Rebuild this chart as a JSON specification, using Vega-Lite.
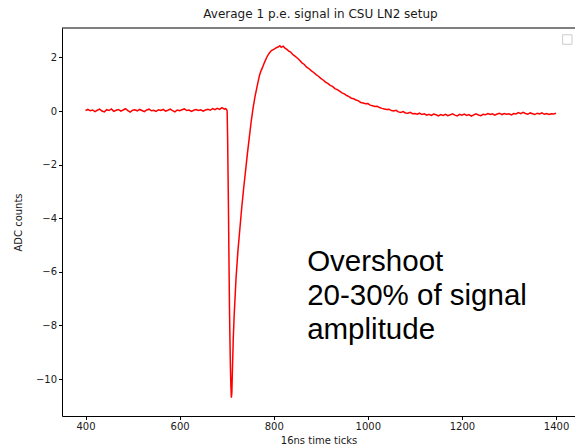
{
  "$schema": "https://vega.github.io/schema/vega-lite/v6.json",
  "width": 513,
  "height": 388,
  "autosize": "none",
  "padding": {"left": 62, "top": 28, "right": 0, "bottom": 31},
  "config": {"view": {"stroke": null}, "font": "DejaVu Sans"},
  "title": {"text": "Average 1 p.e. signal in CSU LN2 setup", "fontSize": 12, "fontWeight": "normal", "font": "DejaVu Sans", "color": "#1a1a1a", "offset": 7, "dx": 2},
  "datasets": {
    "signal": [
      {"tick": 400, "adc": 0.02}, {"tick": 405, "adc": 0.06}, {"tick": 410, "adc": 0.01}, {"tick": 415, "adc": 0.04},
      {"tick": 420, "adc": -0.02}, {"tick": 425, "adc": 0.03}, {"tick": 430, "adc": 0.07}, {"tick": 435, "adc": 0.0},
      {"tick": 440, "adc": -0.03}, {"tick": 445, "adc": 0.05}, {"tick": 450, "adc": 0.02}, {"tick": 455, "adc": 0.08},
      {"tick": 460, "adc": -0.01}, {"tick": 465, "adc": 0.03}, {"tick": 470, "adc": 0.06}, {"tick": 475, "adc": 0.0},
      {"tick": 480, "adc": 0.04}, {"tick": 485, "adc": 0.09}, {"tick": 490, "adc": 0.02}, {"tick": 495, "adc": -0.04},
      {"tick": 500, "adc": 0.03}, {"tick": 505, "adc": 0.05}, {"tick": 510, "adc": 0.01}, {"tick": 515, "adc": 0.06},
      {"tick": 520, "adc": 0.02}, {"tick": 525, "adc": -0.02}, {"tick": 530, "adc": 0.04}, {"tick": 535, "adc": 0.07},
      {"tick": 540, "adc": 0.01}, {"tick": 545, "adc": 0.03}, {"tick": 550, "adc": -0.01}, {"tick": 555, "adc": 0.05},
      {"tick": 560, "adc": 0.02}, {"tick": 565, "adc": 0.06}, {"tick": 570, "adc": 0.0}, {"tick": 575, "adc": 0.03},
      {"tick": 580, "adc": 0.07}, {"tick": 585, "adc": 0.02}, {"tick": 590, "adc": -0.03}, {"tick": 595, "adc": 0.04},
      {"tick": 600, "adc": 0.01}, {"tick": 605, "adc": 0.05}, {"tick": 610, "adc": 0.08}, {"tick": 615, "adc": 0.02},
      {"tick": 620, "adc": 0.04}, {"tick": 625, "adc": -0.01}, {"tick": 630, "adc": 0.03}, {"tick": 635, "adc": 0.06},
      {"tick": 640, "adc": 0.02}, {"tick": 645, "adc": 0.05}, {"tick": 650, "adc": 0.0}, {"tick": 655, "adc": 0.04},
      {"tick": 660, "adc": 0.07}, {"tick": 665, "adc": 0.03}, {"tick": 670, "adc": 0.09}, {"tick": 675, "adc": 0.05},
      {"tick": 680, "adc": 0.1}, {"tick": 685, "adc": 0.06}, {"tick": 690, "adc": 0.13}, {"tick": 695, "adc": 0.07},
      {"tick": 698, "adc": 0.09}, {"tick": 700, "adc": 0.05}, {"tick": 701, "adc": 0.0},
      {"tick": 702, "adc": -1.0}, {"tick": 703, "adc": -2.5}, {"tick": 704, "adc": -4.0}, {"tick": 705, "adc": -5.8},
      {"tick": 706, "adc": -7.4}, {"tick": 707, "adc": -8.6}, {"tick": 708, "adc": -9.6}, {"tick": 709, "adc": -10.3},
      {"tick": 710, "adc": -10.7}, {"tick": 711, "adc": -10.5}, {"tick": 712, "adc": -9.8}, {"tick": 714, "adc": -8.5},
      {"tick": 716, "adc": -7.6}, {"tick": 718, "adc": -6.9}, {"tick": 720, "adc": -6.2}, {"tick": 724, "adc": -5.2},
      {"tick": 728, "adc": -4.4}, {"tick": 732, "adc": -3.6}, {"tick": 736, "adc": -2.9}, {"tick": 740, "adc": -2.25},
      {"tick": 744, "adc": -1.6}, {"tick": 748, "adc": -1.0}, {"tick": 752, "adc": -0.4}, {"tick": 756, "adc": 0.1},
      {"tick": 760, "adc": 0.52}, {"tick": 765, "adc": 0.95}, {"tick": 770, "adc": 1.35}, {"tick": 773, "adc": 1.5},
      {"tick": 776, "adc": 1.62}, {"tick": 780, "adc": 1.8}, {"tick": 785, "adc": 2.0}, {"tick": 790, "adc": 2.15},
      {"tick": 795, "adc": 2.26}, {"tick": 800, "adc": 2.3}, {"tick": 805, "adc": 2.36}, {"tick": 810, "adc": 2.4},
      {"tick": 813, "adc": 2.44}, {"tick": 816, "adc": 2.38}, {"tick": 820, "adc": 2.42}, {"tick": 824, "adc": 2.35},
      {"tick": 828, "adc": 2.3}, {"tick": 832, "adc": 2.24}, {"tick": 836, "adc": 2.2}, {"tick": 840, "adc": 2.12},
      {"tick": 845, "adc": 2.05}, {"tick": 850, "adc": 1.98}, {"tick": 855, "adc": 1.9}, {"tick": 860, "adc": 1.8},
      {"tick": 865, "adc": 1.74}, {"tick": 870, "adc": 1.64}, {"tick": 875, "adc": 1.58}, {"tick": 880, "adc": 1.5},
      {"tick": 885, "adc": 1.44}, {"tick": 890, "adc": 1.36}, {"tick": 895, "adc": 1.3}, {"tick": 900, "adc": 1.22},
      {"tick": 905, "adc": 1.16}, {"tick": 910, "adc": 1.08}, {"tick": 915, "adc": 1.03}, {"tick": 920, "adc": 0.96},
      {"tick": 925, "adc": 0.92}, {"tick": 930, "adc": 0.84}, {"tick": 935, "adc": 0.8}, {"tick": 940, "adc": 0.74},
      {"tick": 945, "adc": 0.68}, {"tick": 950, "adc": 0.64}, {"tick": 955, "adc": 0.58}, {"tick": 960, "adc": 0.54},
      {"tick": 965, "adc": 0.48}, {"tick": 970, "adc": 0.46}, {"tick": 975, "adc": 0.41}, {"tick": 980, "adc": 0.38},
      {"tick": 985, "adc": 0.32}, {"tick": 990, "adc": 0.3}, {"tick": 995, "adc": 0.27}, {"tick": 1000, "adc": 0.28},
      {"tick": 1005, "adc": 0.22}, {"tick": 1010, "adc": 0.2}, {"tick": 1015, "adc": 0.17}, {"tick": 1020, "adc": 0.18},
      {"tick": 1025, "adc": 0.13}, {"tick": 1030, "adc": 0.1}, {"tick": 1035, "adc": 0.08}, {"tick": 1040, "adc": 0.06},
      {"tick": 1045, "adc": 0.07}, {"tick": 1050, "adc": 0.02}, {"tick": 1055, "adc": 0.0}, {"tick": 1060, "adc": 0.03},
      {"tick": 1065, "adc": -0.03}, {"tick": 1070, "adc": -0.05}, {"tick": 1075, "adc": -0.02}, {"tick": 1080, "adc": -0.07},
      {"tick": 1085, "adc": -0.08}, {"tick": 1090, "adc": -0.05}, {"tick": 1095, "adc": -0.1}, {"tick": 1100, "adc": -0.09},
      {"tick": 1105, "adc": -0.12}, {"tick": 1110, "adc": -0.08}, {"tick": 1115, "adc": -0.13}, {"tick": 1120, "adc": -0.1},
      {"tick": 1125, "adc": -0.15}, {"tick": 1130, "adc": -0.12}, {"tick": 1135, "adc": -0.16}, {"tick": 1140, "adc": -0.11},
      {"tick": 1145, "adc": -0.14}, {"tick": 1150, "adc": -0.18}, {"tick": 1155, "adc": -0.13}, {"tick": 1160, "adc": -0.16},
      {"tick": 1165, "adc": -0.12}, {"tick": 1170, "adc": -0.17}, {"tick": 1175, "adc": -0.14}, {"tick": 1180, "adc": -0.1},
      {"tick": 1185, "adc": -0.15}, {"tick": 1190, "adc": -0.18}, {"tick": 1195, "adc": -0.12}, {"tick": 1200, "adc": -0.15},
      {"tick": 1205, "adc": -0.11}, {"tick": 1210, "adc": -0.16}, {"tick": 1215, "adc": -0.13}, {"tick": 1220, "adc": -0.19},
      {"tick": 1225, "adc": -0.14}, {"tick": 1230, "adc": -0.1}, {"tick": 1235, "adc": -0.15}, {"tick": 1240, "adc": -0.17},
      {"tick": 1245, "adc": -0.12}, {"tick": 1250, "adc": -0.14}, {"tick": 1255, "adc": -0.09}, {"tick": 1260, "adc": -0.13},
      {"tick": 1265, "adc": -0.1}, {"tick": 1270, "adc": -0.15}, {"tick": 1275, "adc": -0.11}, {"tick": 1280, "adc": -0.08},
      {"tick": 1285, "adc": -0.13}, {"tick": 1290, "adc": -0.09}, {"tick": 1295, "adc": -0.12}, {"tick": 1300, "adc": -0.1},
      {"tick": 1305, "adc": -0.14}, {"tick": 1310, "adc": -0.09}, {"tick": 1315, "adc": -0.11}, {"tick": 1320, "adc": -0.06},
      {"tick": 1325, "adc": -0.1}, {"tick": 1330, "adc": -0.05}, {"tick": 1335, "adc": -0.09}, {"tick": 1340, "adc": -0.12},
      {"tick": 1345, "adc": -0.07}, {"tick": 1350, "adc": -0.1}, {"tick": 1355, "adc": -0.13}, {"tick": 1360, "adc": -0.08},
      {"tick": 1365, "adc": -0.11}, {"tick": 1370, "adc": -0.07}, {"tick": 1375, "adc": -0.12}, {"tick": 1380, "adc": -0.09},
      {"tick": 1385, "adc": -0.13}, {"tick": 1390, "adc": -0.1}, {"tick": 1395, "adc": -0.11}, {"tick": 1400, "adc": -0.08}
    ],
    "note": [
      {"label": ["Overshoot", "20-30% of signal", "amplitude"]}
    ]
  },
  "layer": [
    {
      "data": {"name": "signal"},
      "mark": {"type": "line", "color": "#ff0000", "strokeWidth": 1.5},
      "encoding": {
        "x": {
          "field": "tick", "type": "quantitative",
          "scale": {"domain": [350, 1440.3], "nice": false, "zero": false},
          "axis": {
            "title": "16ns time ticks", "values": [400, 600, 800, 1000, 1200, 1400], "format": "d",
            "grid": false, "tickSize": 3.5, "tickColor": "#000", "domainColor": "#000",
            "labelFontSize": 10, "labelColor": "#1a1a1a", "labelPadding": 2, "labelFont": "DejaVu Sans",
            "titleFontSize": 10, "titleFontWeight": "normal", "titleColor": "#1a1a1a", "titlePadding": 4, "titleFont": "DejaVu Sans"
          }
        },
        "y": {
          "field": "adc", "type": "quantitative",
          "scale": {"domain": [-11.38, 3.1], "nice": false, "zero": false},
          "axis": {
            "title": "ADC counts", "values": [-10, -8, -6, -4, -2, 0, 2],
            "grid": false, "tickSize": 3.5, "tickColor": "#000", "domainColor": "#000",
            "labelFontSize": 10, "labelColor": "#1a1a1a", "labelPadding": 2, "labelFont": "DejaVu Sans",
            "titleFontSize": 10, "titleFontWeight": "normal", "titleColor": "#1a1a1a", "titlePadding": 12, "titleFont": "DejaVu Sans"
          }
        }
      }
    },
    {
      "data": {"name": "note"},
      "mark": {"type": "rule", "color": "#000", "strokeWidth": 1},
      "encoding": {"y": {"datum": 3.1}}
    },
    {
      "data": {"name": "note"},
      "mark": {"type": "square", "size": 90, "filled": true, "fill": "#ffffff", "stroke": "#cccccc", "strokeWidth": 1, "opacity": 1},
      "encoding": {"x": {"datum": 1424}, "y": {"datum": 2.67}}
    },
    {
      "data": {"name": "note"},
      "mark": {"type": "text", "align": "left", "baseline": "alphabetic", "font": "Liberation Sans", "fontSize": 29.5, "lineHeight": 34, "color": "#000"},
      "encoding": {
        "x": {"datum": 871},
        "y": {"datum": -5.98},
        "text": {"field": "label"}
      }
    }
  ]
}
